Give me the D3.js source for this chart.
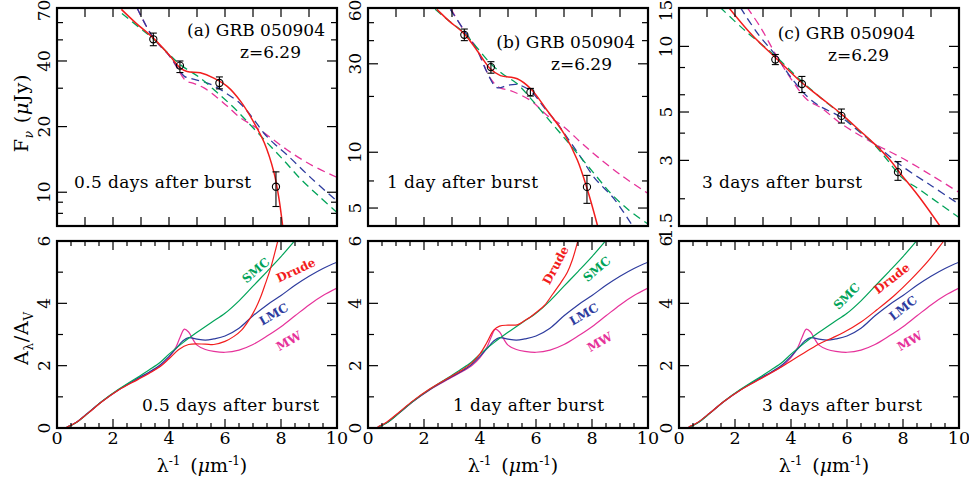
<!DOCTYPE html>
<html>
<head>
<meta charset="utf-8">
<script src="https://cdn.jsdelivr.net/npm/d3@7.9.0/dist/d3.min.js"></script>
<style>
  body { margin: 0; background: #fff; }
  svg { display: block; font-family: "DejaVu Serif", serif; }
</style>
</head>
<body>
<svg id="chart" width="969" height="478"></svg>
<script>
// ---- data ----
const panelTitles = ['(a) GRB 050904', '(b) GRB 050904', '(c) GRB 050904'];
const redshiftLabel = 'z=6.29';
const epochLabels = ['0.5 days after burst', '1 day after burst', '3 days after burst'];

const fluxDomains = [[7, 70], [4, 60], [1.5, 15]];
const fluxMajorTicks = [[10, 20, 40, 70], [5, 10, 30, 60], [1.5, 3, 5, 10, 15]];
const fluxMinorTicks = [[8, 9, 30, 50, 60], [7, 20, 40, 50], [2, 4, 6, 8]];
const extMajorTicks = [0, 2, 4, 6];
const extMinorTicks = [1, 3, 5];
const xTickLabels = [0, 2, 4, 6, 8, 10];

// observed points (rest-frame 1/lambda), flux and error bar ends, per epoch
const obsX = [3.44, 4.39, 5.8, 7.82];
const obsFlux = [[50.3, 38.1, 31.7, 10.6], [43, 28.8, 21.1, 6.5], [8.7, 6.72, 4.8, 2.65]];
const obsLo = [[47, 35.4, 29.8, 8.6], [40, 26.7, 20.1, 5.3], [8.25, 6.14, 4.45, 2.43]];
const obsHi = [[53.7, 40, 33.8, 12.4], [46.2, 30.8, 22.1, 7.5], [9.18, 7.28, 5.16, 2.96]];

// model fits, flux vs 1/lambda
const fitDrude = [
  [[2.3, 69], [2.8, 60], [3.45, 50.8], [4.0, 42.7], [4.41, 37.1], [4.65, 35.8], [5.12, 35.3], [5.6, 33.4], [6.08, 30.6], [6.56, 26.1], [7.04, 20.8], [7.4, 16.9], [7.75, 12.3], [7.93, 9.3], [8.06, 7.0]],
  [[2.46, 59], [2.9, 51], [3.44, 43.5], [3.9, 35.3], [4.37, 28.2], [4.73, 25.9], [5.33, 24.9], [5.81, 22.0], [6.4, 16.8], [7.0, 12.6], [7.48, 9.06], [7.84, 6.25], [8.2, 4.0]],
  [[1.77, 15.1], [2.6, 11.3], [3.45, 8.87], [4.34, 6.9], [5.0, 5.9], [5.77, 4.93], [6.4, 4.17], [6.97, 3.58], [7.5, 3.05], [7.92, 2.6], [8.6, 2.02], [9.35, 1.48]]
];
const fitSMC = [
  [[2.32, 66], [2.9, 57.5], [3.44, 50.5], [4.0, 43], [4.4, 38.5], [5.12, 33.4], [5.7, 28.8], [6.32, 24.4], [6.9, 20.4], [7.5, 16.9], [8.1, 14], [8.7, 11.5], [9.35, 9.6], [10, 8.07]],
  [[2.4, 59], [2.9, 51], [3.44, 44], [3.9, 36.5], [4.37, 30.2], [4.8, 26.5], [5.33, 23.4], [5.8, 19.6], [6.28, 16.1], [6.9, 12.5], [7.48, 9.84], [8.1, 7.6], [8.67, 6.0], [9.3, 4.9], [10, 4.1]],
  [[1.47, 15.1], [2.3, 12.0], [3.45, 9.0], [4.34, 7.0], [5.0, 5.9], [5.77, 4.9], [6.4, 4.15], [6.97, 3.55], [7.5, 2.95], [7.92, 2.53], [8.6, 2.2], [9.35, 1.88], [10, 1.64]]
];
const fitLMC = [
  [[2.86, 70], [3.44, 51], [4.0, 42.5], [4.3, 37.5], [4.55, 34], [4.8, 33.2], [5.2, 32.2], [5.6, 30.8], [6.0, 28.7], [6.56, 25.4], [7.0, 21.8], [7.4, 18.6], [7.8, 16.5], [8.2, 14.9], [9.05, 11.7], [10, 9.1]],
  [[2.94, 59], [3.44, 45.3], [3.9, 35.5], [4.25, 27], [4.61, 22.3], [5.0, 23.0], [5.33, 23.2], [5.81, 21.4], [6.28, 17.5], [6.76, 14.3], [7.2, 11.5], [7.6, 9.4], [8.08, 7.3], [8.79, 5.6], [9.45, 4.0]],
  [[2.19, 15.1], [2.8, 11.5], [3.45, 9.1], [4.0, 7.2], [4.58, 5.89], [5.05, 5.3], [5.77, 4.75], [6.4, 4.1], [6.97, 3.58], [7.92, 2.85], [9.0, 2.3], [10, 1.89]]
];
const fitMW = [
  [[2.86, 70], [3.44, 51], [4.0, 42.5], [4.3, 37], [4.6, 32.5], [4.9, 31.5], [5.25, 30.1], [5.7, 27.3], [6.1, 24.7], [6.5, 22.2], [7.0, 20.2], [7.5, 18.3], [8.2, 15.7], [9.05, 13.4], [10, 11.7]],
  [[2.97, 59], [3.44, 45], [3.9, 36], [4.37, 25], [4.7, 22.3], [5.09, 21.5], [5.81, 19.0], [6.4, 15.8], [7.0, 13.7], [7.6, 11.3], [8.2, 9.44], [9.1, 7.4], [10, 6.0]],
  [[2.43, 15.1], [2.9, 12.3], [3.45, 9.2], [4.0, 7.1], [4.58, 5.69], [5.1, 5.2], [5.77, 4.44], [6.97, 3.58], [7.92, 3.1], [9.0, 2.57], [10, 2.14]]
];

// extinction curves A_lambda/A_V vs 1/lambda
const extMW = [[0.35, 0.03], [0.65, 0.16], [1.1, 0.47], [1.6, 0.84], [2.2, 1.22], [2.9, 1.58], [3.3, 1.78], [3.7, 2.0], [4.0, 2.26], [4.25, 2.6], [4.4, 2.92], [4.55, 3.17], [4.7, 3.08], [4.85, 2.85], [5.0, 2.66], [5.3, 2.52], [5.6, 2.46], [6.0, 2.43], [6.5, 2.5], [7.0, 2.68], [7.5, 2.95], [8.0, 3.25], [8.5, 3.6], [9.0, 3.95], [9.5, 4.25], [10, 4.49]];
const extLMC = [[0.35, 0.03], [0.65, 0.16], [1.1, 0.48], [1.6, 0.85], [2.2, 1.23], [2.9, 1.6], [3.3, 1.8], [3.7, 2.04], [4.0, 2.3], [4.25, 2.55], [4.5, 2.8], [4.7, 2.9], [5.0, 2.85], [5.3, 2.82], [5.6, 2.86], [6.0, 2.95], [6.5, 3.2], [7.0, 3.6], [7.5, 3.95], [8.0, 4.25], [8.5, 4.58], [9.0, 4.87], [9.5, 5.12], [10, 5.32]];
const extSMC = [[0.35, 0.02], [0.65, 0.15], [1.1, 0.47], [1.6, 0.85], [2.2, 1.24], [2.9, 1.64], [3.3, 1.87], [3.7, 2.12], [4.0, 2.37], [4.5, 2.74], [5.0, 3.07], [5.5, 3.38], [6.0, 3.68], [6.5, 4.08], [7.0, 4.55], [7.5, 5.02], [8.0, 5.5], [8.5, 6.02]];
const extDrude = [
  [[0.35, 0.03], [0.65, 0.16], [1.1, 0.47], [1.6, 0.84], [2.2, 1.22], [2.9, 1.56], [3.3, 1.76], [3.7, 1.98], [4.0, 2.22], [4.35, 2.52], [4.7, 2.68], [5.3, 2.69], [5.6, 2.68], [6.0, 2.78], [6.32, 2.94], [6.6, 3.15], [6.86, 3.47], [7.1, 3.85], [7.28, 4.22], [7.45, 4.65], [7.63, 5.13], [7.8, 5.7], [7.9, 6.05]],
  [[0.35, 0.04], [0.65, 0.18], [1.1, 0.5], [1.6, 0.87], [2.2, 1.25], [2.9, 1.62], [3.3, 1.83], [3.7, 2.08], [4.0, 2.38], [4.25, 2.75], [4.49, 3.14], [4.7, 3.27], [5.0, 3.3], [5.33, 3.31], [5.6, 3.45], [5.8, 3.56], [6.05, 3.74], [6.3, 3.93], [6.6, 4.3], [6.9, 4.68], [7.12, 5.0], [7.3, 5.4], [7.5, 6.02]],
  [[0.35, 0.04], [0.65, 0.17], [1.1, 0.48], [1.6, 0.85], [2.2, 1.22], [2.9, 1.57], [3.3, 1.77], [3.7, 1.98], [4.0, 2.15], [4.56, 2.46], [5.05, 2.72], [5.5, 2.9], [5.89, 3.07], [6.5, 3.4], [7.08, 3.8], [7.7, 4.26], [8.28, 4.76], [8.9, 5.36], [9.42, 5.96], [9.5, 6.05]]
];

// curve name tags on the extinction panels: [name, x, y, angle]
const curveTags = [
  [['SMC', 7.1, 5.06, -40], ['Drude', 8.53, 5.06, -25], ['LMC', 7.74, 3.65, -30], ['MW', 8.28, 2.79, -30]],
  [['Drude', 6.7, 5.22, -62], ['SMC', 8.17, 5.1, -40], ['LMC', 7.71, 3.65, -30], ['MW', 8.28, 2.76, -30]],
  [['SMC', 5.99, 4.23, -45], ['Drude', 7.6, 4.8, -38], ['LMC', 8.0, 3.85, -38], ['MW', 8.24, 2.79, -30]]
];

// ---- layout ----
const colors = { MW: '#e6329a', LMC: '#2e3c9e', SMC: '#00a359', Drude: '#f21d1d' };
const panelLeft = [57, 368, 679];
const pw = 280;
const topY = [8, 226];
const botY = [241, 428];

const svg = d3.select('#chart');
const defs = svg.append('defs');

function frameTicks(g, x, y, yMajor, yMinor, xStep, xMajorEvery) {
  const [x0, x1] = x.range();
  const [yb, yt] = y.range();
  const xs = d3.range(0, 10.001, xStep);
  xs.forEach(v => {
    const len = (Math.abs(v / xMajorEvery - Math.round(v / xMajorEvery)) < 1e-6) ? 9 : 5;
    g.append('line').attr('x1', x(v)).attr('x2', x(v)).attr('y1', yb).attr('y2', yb - len);
    g.append('line').attr('x1', x(v)).attr('x2', x(v)).attr('y1', yt).attr('y2', yt + len);
  });
  yMajor.forEach(v => {
    g.append('line').attr('x1', x0).attr('x2', x0 + 10).attr('y1', y(v)).attr('y2', y(v));
    g.append('line').attr('x1', x1).attr('x2', x1 - 10).attr('y1', y(v)).attr('y2', y(v));
  });
  yMinor.forEach(v => {
    g.append('line').attr('x1', x0).attr('x2', x0 + 6).attr('y1', y(v)).attr('y2', y(v));
    g.append('line').attr('x1', x1).attr('x2', x1 - 6).attr('y1', y(v)).attr('y2', y(v));
  });
  g.selectAll('line').attr('stroke', '#000').attr('stroke-width', 1.2);
  g.append('rect').attr('x', x0).attr('y', yt).attr('width', x1 - x0).attr('height', yb - yt)
    .attr('fill', 'none').attr('stroke', '#000').attr('stroke-width', 2.2);
}

function yLabels(x0, y, vals) {
  vals.forEach(v => {
    // keep the top label just inside the picture
    const cy = Math.max(y(v), 10.5);
    svg.append('text')
      .attr('transform', `translate(${x0 - 13},${cy}) rotate(-90)`)
      .attr('text-anchor', 'middle').attr('dy', '0.36em')
      .attr('font-size', 17).text(v);
  });
}

for (let i = 0; i < 3; i++) {
  const x = d3.scaleLinear().domain([0, 10]).range([panelLeft[i], panelLeft[i] + pw]);
  const yF = d3.scaleLog().domain(fluxDomains[i]).range(topY.slice().reverse());
  const yA = d3.scaleLinear().domain([0, 6]).range(botY.slice().reverse());

  // ---- flux panel ----
  defs.append('clipPath').attr('id', 'ct' + i).append('rect')
    .attr('x', panelLeft[i]).attr('y', topY[0]).attr('width', pw).attr('height', topY[1] - topY[0]);
  const gt = svg.append('g').attr('clip-path', `url(#ct${i})`);

  const lineF = d3.line().x(d => x(d[0])).y(d => yF(d[1])).curve(d3.curveCatmullRom.alpha(0.5));
  [['MW', fitMW], ['LMC', fitLMC], ['SMC', fitSMC]].forEach(([k, arr]) => {
    gt.append('path').attr('d', lineF(arr[i])).attr('fill', 'none')
      .attr('stroke', colors[k]).attr('stroke-width', 1.3).attr('stroke-dasharray', '8,5');
  });
  gt.append('path').attr('d', lineF(fitDrude[i])).attr('fill', 'none')
    .attr('stroke', colors.Drude).attr('stroke-width', 1.5);

  const pts = gt.append('g').attr('stroke', '#000').attr('fill', 'none').attr('stroke-width', 1.1);
  obsX.forEach((vx, j) => {
    const cx = x(vx);
    pts.append('line').attr('x1', cx).attr('x2', cx).attr('y1', yF(obsLo[i][j])).attr('y2', yF(obsHi[i][j]));
    pts.append('line').attr('x1', cx - 3.5).attr('x2', cx + 3.5).attr('y1', yF(obsLo[i][j])).attr('y2', yF(obsLo[i][j]));
    pts.append('line').attr('x1', cx - 3.5).attr('x2', cx + 3.5).attr('y1', yF(obsHi[i][j])).attr('y2', yF(obsHi[i][j]));
    pts.append('circle').attr('cx', cx).attr('cy', yF(obsFlux[i][j])).attr('r', 3.6);
  });

  frameTicks(svg.append('g'), x, yF, fluxMajorTicks[i], fluxMinorTicks[i], 1, 1);
  yLabels(panelLeft[i], yF, fluxMajorTicks[i]);

  const titleY = [36, 48, 39][i];
  svg.append('text').attr('x', [325, 635, 915][i]).attr('y', titleY).attr('text-anchor', 'end')
    .attr('font-size', 17).text(panelTitles[i]);
  svg.append('text').attr('x', [301, 612, 889][i]).attr('y', titleY + 22).attr('text-anchor', 'end')
    .attr('font-size', 17).text(redshiftLabel);
  svg.append('text').attr('x', [74, 387, 702][i]).attr('y', 188)
    .attr('font-size', 17).attr('letter-spacing', 0.4).text(epochLabels[i]);

  // ---- extinction panel ----
  defs.append('clipPath').attr('id', 'cb' + i).append('rect')
    .attr('x', panelLeft[i]).attr('y', botY[0]).attr('width', pw).attr('height', botY[1] - botY[0]);
  const gb = svg.append('g').attr('clip-path', `url(#cb${i})`);
  const lineA = d3.line().x(d => x(d[0])).y(d => yA(d[1])).curve(d3.curveCatmullRom.alpha(0.5));
  [['MW', extMW], ['LMC', extLMC], ['SMC', extSMC], ['Drude', extDrude[i]]].forEach(([k, arr]) => {
    gb.append('path').attr('d', lineA(arr)).attr('fill', 'none')
      .attr('stroke', colors[k]).attr('stroke-width', 1.2);
  });

  frameTicks(svg.append('g'), x, yA, extMajorTicks, extMinorTicks, 0.5, 2);
  yLabels(panelLeft[i], yA, extMajorTicks);

  xTickLabels.forEach(v => {
    svg.append('text').attr('x', x(v)).attr('y', 444).attr('text-anchor', 'middle')
      .attr('font-size', 17.5).text(v);
  });

  svg.append('text').attr('x', [142, 453, 762][i]).attr('y', 411)
    .attr('font-size', 17).attr('letter-spacing', 0.4).text(epochLabels[i]);

  curveTags[i].forEach(([name, tx, ty, ang]) => {
    svg.append('text')
      .attr('transform', `translate(${x(tx)},${yA(ty)}) rotate(${ang})`)
      .attr('text-anchor', 'middle').attr('dy', '0.35em')
      .attr('font-size', 12).attr('font-weight', 'bold')
      .attr('fill', colors[name]).text(name);
  });

  // x axis title
  const xt = svg.append('text').attr('x', (x.range()[0] + x.range()[1]) / 2 + 5).attr('y', 472)
    .attr('text-anchor', 'middle').attr('font-size', 19);
  xt.append('tspan').text('λ');
  xt.append('tspan').attr('font-size', 12).attr('dy', -7).text('-1');
  xt.append('tspan').attr('dy', 7).text('\u2009 (');
  xt.append('tspan').attr('font-style', 'italic').text('μ');
  xt.append('tspan').text('m');
  xt.append('tspan').attr('font-size', 12).attr('dy', -7).text('-1');
  xt.append('tspan').attr('dy', 7).text(')');
}

// y axis titles
const yt1 = svg.append('text').attr('transform', 'translate(28,113) rotate(-90)')
  .attr('text-anchor', 'middle').attr('font-size', 19).attr('letter-spacing', 0.8);
yt1.append('tspan').text('F');
yt1.append('tspan').attr('font-size', 12).attr('dy', 5).attr('font-style', 'italic').text('ν');
yt1.append('tspan').attr('dy', -5).text('  (');
yt1.append('tspan').attr('font-style', 'italic').text('μ');
yt1.append('tspan').text('Jy)');

const yt2 = svg.append('text').attr('transform', 'translate(28,338) rotate(-90)')
  .attr('text-anchor', 'middle').attr('font-size', 19).attr('letter-spacing', 0.8);
yt2.append('tspan').text('A');
yt2.append('tspan').attr('font-size', 12).attr('dy', 5).text('λ');
yt2.append('tspan').attr('dy', -5).text('/A');
yt2.append('tspan').attr('font-size', 12).attr('dy', 5).text('V');
</script>
</body>
</html>
